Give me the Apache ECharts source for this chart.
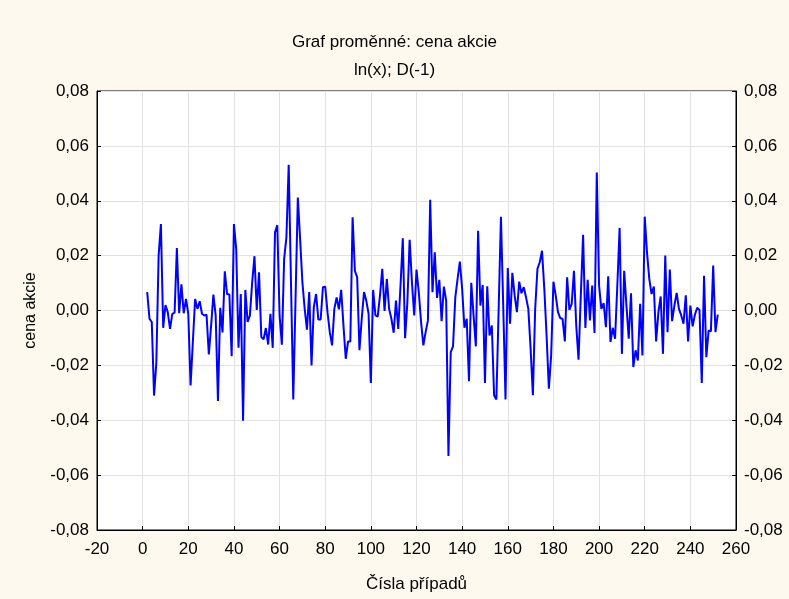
<!DOCTYPE html>
<html>
<head>
<meta charset="utf-8">
<script src="https://cdn.jsdelivr.net/npm/echarts@6/dist/echarts.min.js"></script>
<style>
html,body{margin:0;padding:0;background:#fdf9ee;}
#c{width:789px;height:599px;}
</style>
</head>
<body>
<div id="c"></div>
<script>
var titleText = "Graf proměnné: cena akcie";
var subtitleText = "ln(x); D(-1)";
var xAxisName = "Čísla případů";
var yAxisName = "cena akcie";
var firstCase = 2;
var values = [
 0.0067,-0.003,-0.0042,-0.031,-0.019,0.02,0.0315,-0.0063,0.002,-0.0006,
 -0.0067,-0.0012,-0.0008,0.0228,-0.001,0.0095,-0.001,0.0042,-0.0012,-0.0273,
 -0.0115,0.0042,0.0006,0.0034,-0.0012,-0.0018,-0.0015,-0.016,-0.0055,0.0058,
 -0.0018,-0.033,0.001,-0.008,0.0143,0.006,0.0058,-0.0167,0.0315,0.0224,
 -0.0136,0.006,-0.0402,0.0075,-0.0042,-0.0018,0.0103,0.0198,0.0002,0.0139,
 -0.0097,-0.0105,-0.0064,-0.0124,-0.0012,-0.0136,0.0285,0.0311,-0.0018,-0.0125,
 0.0188,0.0267,0.0531,0.0103,-0.0324,0.0042,0.0412,0.026,0.0103,0.0006,
 -0.007,0.0067,-0.02,0.0012,0.006,-0.0033,-0.0033,0.0085,0.0087,-0.0006,
 -0.0079,-0.0127,0.0006,0.0048,0.0004,0.0075,-0.0055,-0.0176,-0.0113,-0.0113,
 0.034,
 0.0145,0.0121,-0.0145,-0.003,0.0067,0.0036,-0.0012,-0.0264,0.0075,-0.0018,
 -0.0022,0.0055,0.0152,-0.0002,0.0115,0.0006,-0.003,-0.0081,0.0036,-0.0067,
 0.0091,0.0263,-0.0101,0.003,0.0258,0.0103,-0.0018,0.0149,0.0067,-0.0042,
 -0.0127,
 -0.0079,-0.0036,0.0404,0.0067,0.0212,0.0046,0.0112,-0.0039,0.0087,0.0036,
 -0.053,-0.0152,-0.0131,0.0048,0.0115,0.0178,0.0079,-0.0063,-0.003,-0.0258,
 0.0101,-0.0018,-0.0131,0.0291,0.0018,0.0093,-0.0264,0.0088,-0.0091,-0.0055,
 -0.0309,
 -0.0324,0.0006,0.0342,0.0018,-0.0324,0.0155,-0.0048,0.0137,0.0055,-0.0006,
 0.0105,0.0063,0.0085,0.0048,0.0006,-0.0139,-0.0309,0.0006,0.0152,0.0176,
 0.0218,0.0079,-0.0091,-0.0285,-0.0164,0.0105,0.0055,-0.0006,-0.0028,-0.003,
 -0.0113,
 0.0121,0.0002,0.0024,0.0145,-0.0055,-0.0179,0.0055,0.0276,-0.0064,0.0112,
 -0.0036,0.0091,-0.0082,0.0503,0.0091,0.0006,0.0027,-0.0061,0.0125,-0.0115,
 -0.0063,-0.0103,0.0091,0.0301,-0.0158,0.0145,0.0018,-0.0103,0.0063,-0.0206,
 -0.0145,-0.0182,0.0024,-0.0164,0.0342,0.0212,0.0115,0.006,0.0087,-0.0113,
 -0.0006,0.0051,-0.0158,0.02,-0.0079,0.0149,-0.0039,0.0018,0.0064,0.0006,
 -0.0018,-0.0048,0.0055,-0.0113,0.0018,-0.0058,-0.0015,0.001,0.0002,-0.0264,
 0.0127,-0.017,-0.0073,-0.0076,0.0164,-0.0079,-0.0015
];
var xTicks = {min:-20, max:260, interval:20};
var yTicks = {min:-0.08, max:0.08, interval:0.02};

var seriesData = values.map(function(v,i){ return [firstCase + i, v]; });
function fmtY(v){
  return Math.abs(v) < 1e-9 ? "0,00" : v.toFixed(2).replace('.', ',');
}
var font = "Arial, 'Liberation Sans', sans-serif";
var chart = echarts.init(document.getElementById('c'), null, {renderer:'canvas'});
var yCommon = {
  type:'value', min:yTicks.min, max:yTicks.max, interval:yTicks.interval,
  axisLine:{show:true, onZero:false, lineStyle:{color:'#000', width:1}},
  axisTick:{show:true, inside:true, length:4, lineStyle:{color:'#000'}},
  splitLine:{show:true, lineStyle:{color:'#e2e2e2', width:1}},
  axisLabel:{formatter:fmtY, color:'#000', fontSize:17, fontFamily:font, margin:8}
};
chart.setOption({
  backgroundColor:'#fdf9ee',
  animation:false,
  title:[
    {text:titleText, left:'center', top:29, textStyle:{fontSize:17, fontWeight:'normal', color:'#000', fontFamily:font}},
    {text:subtitleText, left:'center', top:57, textStyle:{fontSize:17, fontWeight:'normal', color:'#000', fontFamily:font}}
  ],
  grid:{left:97, right:53, top:91, bottom:69, show:true, backgroundColor:'#ffffff', borderColor:'#000', borderWidth:1},
  xAxis:[{
    type:'value', min:xTicks.min, max:xTicks.max, interval:xTicks.interval,
    name:xAxisName, nameLocation:'middle', nameGap:46,
    nameTextStyle:{fontSize:17, color:'#000', fontFamily:font},
    axisLine:{show:true, onZero:false, lineStyle:{color:'#000'}},
    axisTick:{show:true, inside:true, length:4, lineStyle:{color:'#000'}},
    splitLine:{show:true, lineStyle:{color:'#e2e2e2', width:1}},
    axisLabel:{color:'#000', fontSize:17, fontFamily:font, margin:11}
  }],
  yAxis:[
    Object.assign({}, yCommon, {position:'left', name:yAxisName, nameLocation:'middle', nameGap:58,
      nameTextStyle:{fontSize:16, color:'#000', fontFamily:font}}),
    Object.assign({}, yCommon, {position:'right', splitLine:{show:false}})
  ],
  series:[{
    type:'line', data:seriesData, xAxisIndex:0, yAxisIndex:0,
    showSymbol:false, symbol:'none',
    lineStyle:{color:'#0000ff', width:2}
  }]
});
</script>
</body>
</html>
